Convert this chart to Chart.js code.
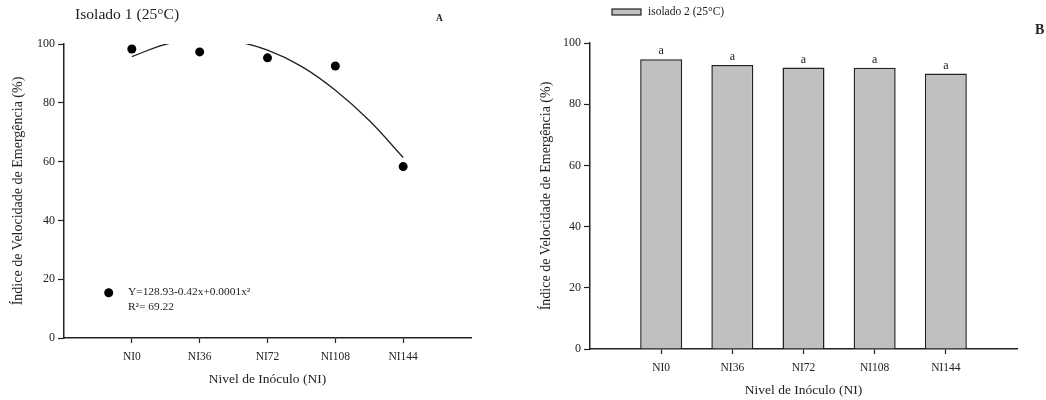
<!DOCTYPE html>
<html>
<head>
<meta charset="utf-8">
<script src="https://cdn.jsdelivr.net/npm/chart.js@4/dist/chart.umd.min.js"></script>
<style>
  body { margin: 0; background: #fff; width: 1046px; height: 400px; position: relative; overflow: hidden; }
  #boxA { position: absolute; left: 0; top: 0; }
  #boxB { position: absolute; left: 520px; top: 0; }
</style>
</head>
<body>
<div id="boxA"><canvas id="chartA" width="500" height="400"></canvas></div>
<div id="boxB"><canvas id="chartB" width="526" height="400"></canvas></div>
<script>
// inoculum levels and their axis labels
const levels = [0, 36, 72, 108, 144];
const levelLabels = ['NI0', 'NI36', 'NI72', 'NI108', 'NI144'];
const yTicks = [0, 20, 40, 60, 80, 100];

const isolado1 = [98.3, 97.3, 95.3, 92.5, 58.3];
const fitLevels = [0, 18, 36, 54, 72, 90, 108, 126, 144];
const fitValues = [95.7, 99.9, 101.6, 101.0, 97.9, 92.4, 84.3, 74.0, 61.4];

// isolate 2: bar means and Tukey letters
const isolado2 = [94.7, 92.8, 92.0, 91.9, 90.0];
const letters2 = ['a', 'a', 'a', 'a', 'a'];

const serif = "'Liberation Serif', 'Times New Roman', serif";
const ink = '#222';
Chart.defaults.font.family = serif;
Chart.defaults.color = ink;
Chart.defaults.animation = false;
Chart.defaults.plugins.legend.display = false;
Chart.defaults.plugins.tooltip.enabled = false;

function xAxis() {
  return {
    type: 'linear',
    min: -36,
    max: 180,
    offset: false,
    afterBuildTicks: (s) => { s.ticks = levels.map((v) => ({ value: v })); },
    afterFit: (s) => { s.height = 50; },
    grid: { drawOnChartArea: false, offset: false, color: ink, tickLength: 5, tickWidth: 1.2 },
    border: { color: ink, width: 1.5 },
    ticks: {
      callback: (v) => levelLabels[levels.indexOf(v)],
      font: { size: 11.5 }, padding: 7, maxRotation: 0, autoSkip: false, color: ink
    },
    title: { display: true, text: 'Nivel de Inóculo (NI)', font: { size: 13.5 }, padding: 0, color: ink }
  };
}

function yAxis(width, titlePad) {
  return {
    min: 0,
    max: 100,
    afterBuildTicks: (s) => { s.ticks = yTicks.map((v) => ({ value: v })); },
    afterFit: (s) => { s.width = width; },
    grid: { drawOnChartArea: false, color: ink, tickLength: 6, tickWidth: 1.2 },
    border: { color: ink, width: 1.5 },
    ticks: { font: { size: 12 }, padding: 3, color: ink },
    title: {
      display: true, text: 'Índice de Velocidade de Emergência (%)',
      font: { size: 14 }, padding: { top: titlePad, bottom: 0 }, color: ink
    }
  };
}

// panel A annotations: heading, panel letter, regression legend
const notesA = {
  id: 'notesA',
  afterDraw(chart) {
    const ctx = chart.ctx;
    ctx.save();
    ctx.fillStyle = ink;
    ctx.textBaseline = 'middle';
    ctx.textAlign = 'left';
    ctx.font = `15.6px ${serif}`;
    ctx.fillText('Isolado 1 (25°C)', 75, 15);
    ctx.font = `bold 9.5px ${serif}`;
    ctx.fillText('A', 436, 19);
    ctx.beginPath();
    ctx.arc(108.7, 292.7, 4.5, 0, Math.PI * 2);
    ctx.fillStyle = '#000';
    ctx.fill();
    ctx.fillStyle = ink;
    ctx.font = `11.4px ${serif}`;
    ctx.fillText('Y=128.93-0.42x+0.0001x²', 128, 292);
    ctx.fillText('R²= 69.22', 128, 307);
    ctx.restore();
  }
};

// panel B annotations: legend, panel letter, letters above the bars
const notesB = {
  id: 'notesB',
  afterDraw(chart) {
    const ctx = chart.ctx;
    ctx.save();
    ctx.fillStyle = '#c0c0c0';
    ctx.fillRect(92, 9, 29, 6);
    ctx.strokeStyle = ink;
    ctx.lineWidth = 1.2;
    ctx.strokeRect(92, 9, 29, 6);
    ctx.fillStyle = ink;
    ctx.textBaseline = 'middle';
    ctx.textAlign = 'left';
    ctx.font = `11.5px ${serif}`;
    ctx.fillText('isolado 2 (25°C)', 128, 12);
    ctx.font = `bold 14px ${serif}`;
    ctx.fillText('B', 515, 30);
    ctx.font = `12px ${serif}`;
    ctx.textAlign = 'center';
    ctx.textBaseline = 'bottom';
    chart.getDatasetMeta(0).data.forEach((bar, i) => {
      ctx.fillText(letters2[i], bar.x, bar.y - 2);
    });
    ctx.restore();
  }
};

new Chart(document.getElementById('chartA'), {
  type: 'scatter',
  data: {
    datasets: [
      {
        data: fitLevels.map((x, i) => ({ x, y: fitValues[i] })),
        showLine: true,
        borderColor: ink,
        borderWidth: 1.3,
        pointRadius: 0,
        tension: 0.4,
        capBezierPoints: false
      },
      {
        data: levels.map((x, i) => ({ x, y: isolado1[i] })),
        backgroundColor: '#000',
        borderWidth: 0,
        pointRadius: 4.5
      }
    ]
  },
  options: {
    responsive: false,
    layout: { padding: { left: 0, right: 29, top: 44, bottom: 12 } },
    elements: { line: { capBezierPoints: false } },
    scales: { x: xAxis(), y: yAxis(64, 10) }
  },
  plugins: [notesA]
});

new Chart(document.getElementById('chartB'), {
  type: 'bar',
  data: {
    datasets: [{
      label: 'isolado 2 (25°C)',
      data: levels.map((x, i) => ({ x, y: isolado2[i] })),
      backgroundColor: '#c0c0c0',
      borderColor: ink,
      borderWidth: 1.5,
      barPercentage: 1,
      categoryPercentage: 0.59
    }]
  },
  options: {
    responsive: false,
    layout: { padding: { left: 0, right: 29, top: 43, bottom: 1 } },
    scales: { x: xAxis(), y: yAxis(70, 18) }
  },
  plugins: [notesB]
});
</script>
</body>
</html>
